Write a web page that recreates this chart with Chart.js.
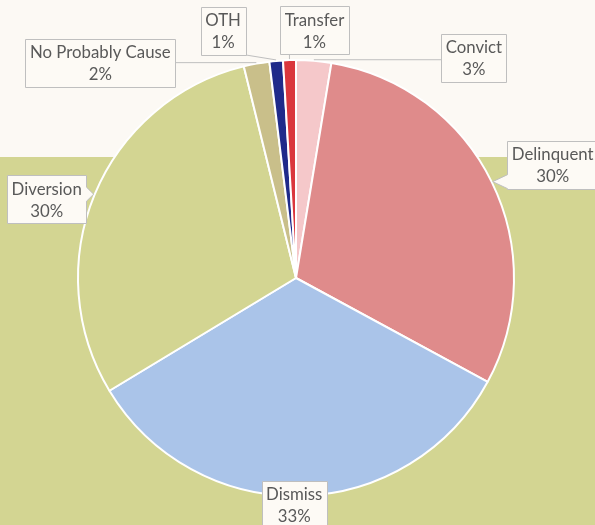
<!DOCTYPE html>
<html>
<head>
<meta charset="utf-8">
<script src="https://cdn.jsdelivr.net/npm/chart.js@4.4.1/dist/chart.umd.min.js"></script>
<style>
	html, body { margin: 0; padding: 0; background: #fcf9f4; }
	#wrap { width: 595px; height: 525px; }
</style>
</head>
<body>
<div id="wrap"><canvas id="pie" width="595" height="525"></canvas></div>
<script>
(function () {
	'use strict';

	// slices, clockwise from 12 o'clock
	var categories = ['Convict', 'Delinquent', 'Dismiss', 'Diversion', 'No Probably Cause', 'OTH', 'Transfer'];
	var shares = [2.6, 30.3, 33.45, 29.8, 1.9, 1.0, 0.95];
	var sliceColors = ['#f5c8ca', '#df8b8b', '#aac4e9', '#d3d592', '#c9bf8a', '#1f2a8a', '#da373d'];

	// where each callout box sits, relative to the middle of its slice's rim
	var labelOffsets = [[160, -2], [60, -17], [-7, 8], [-47, 5], [-156, 0], [-53, -29], [25, -29]];
	var labelPointers = ['line', 'callout', 'none', 'callout', 'line', 'line', 'line'];

	var bgTop = '#fcf9f4',
		bgBottom = '#d3d592',
		bandY = 157,
		boxFill = '#fdfaf5',
		boxLine = '#bfbfbf',
		textColor = '#595959',
		font = '16.8px Lato, "Liberation Sans", sans-serif';

	var backdrop = {
		id: 'backdrop',
		beforeDraw: function (chart) {
			var ctx = chart.ctx;
			ctx.save();
			ctx.fillStyle = bgTop;
			ctx.fillRect(0, 0, chart.width, chart.height);
			ctx.fillStyle = bgBottom;
			ctx.fillRect(0, bandY, chart.width, chart.height - bandY);
			ctx.restore();
		}
	};

	function boxPath(ctx, l, t, w, h, pointer, tip) {
		var r = l + w, b = t + h, notch = 7;
		ctx.beginPath();
		ctx.moveTo(l, t);
		ctx.lineTo(r, t);
		if (pointer === 'callout' && tip.x > r) {
			var ny = Math.min(Math.max(tip.y, t + notch), b - notch);
			ctx.lineTo(r, ny - notch);
			ctx.lineTo(tip.x, tip.y);
			ctx.lineTo(r, ny + notch);
		}
		ctx.lineTo(r, b);
		ctx.lineTo(l, b);
		if (pointer === 'callout' && tip.x < l) {
			var my = Math.min(Math.max(tip.y, t + notch), b - notch);
			ctx.lineTo(l, my + notch);
			ctx.lineTo(tip.x, tip.y);
			ctx.lineTo(l, my - notch);
		}
		ctx.closePath();
	}

	var callouts = {
		id: 'callouts',
		afterDatasetsDraw: function (chart) {
			var ctx = chart.ctx,
				meta = chart.getDatasetMeta(0),
				total = shares.reduce(function (a, v) { return a + v; }, 0);

			ctx.save();
			ctx.font = font;
			meta.data.forEach(function (arc, i) {
				var p = arc.getProps(['x', 'y', 'startAngle', 'endAngle', 'outerRadius'], true),
					mid = (p.startAngle + p.endAngle) / 2,
					rim = p.outerRadius + 1,
					tip = { x: p.x + Math.cos(mid) * rim, y: p.y + Math.sin(mid) * rim },
					name = categories[i],
					pct = Math.round(shares[i] / total * 100) + '%',
					w = Math.max(ctx.measureText(name).width, ctx.measureText(pct).width) + 9,
					h = 48,
					cx = tip.x + labelOffsets[i][0],
					cy = tip.y + labelOffsets[i][1],
					l = cx - w / 2,
					t = cy - h / 2;

				if (labelPointers[i] === 'line') {
					var ex = Math.min(Math.max(tip.x, l), l + w),
						ey = Math.min(Math.max(tip.y, t), t + h);
					ctx.strokeStyle = boxLine;
					ctx.lineWidth = 1;
					ctx.beginPath();
					ctx.moveTo(ex, ey);
					ctx.lineTo(tip.x, tip.y);
					ctx.stroke();
				}

				boxPath(ctx, Math.round(l) + 0.5, Math.round(t) + 0.5, Math.round(w), h, labelPointers[i], tip);
				ctx.fillStyle = boxFill;
				ctx.fill();
				ctx.strokeStyle = boxLine;
				ctx.lineWidth = 1;
				ctx.stroke();

				ctx.fillStyle = textColor;
				ctx.textAlign = 'center';
				ctx.textBaseline = 'middle';
				ctx.fillText(name, cx, t + 14);
				ctx.fillText(pct, cx, t + 36);
			});
			ctx.restore();
		}
	};

	new Chart(document.getElementById('pie'), {
		type: 'pie',
		data: {
			labels: categories,
			datasets: [{
				data: shares,
				backgroundColor: sliceColors,
				borderColor: '#ffffff',
				borderWidth: 2
			}]
		},
		options: {
			responsive: false,
			animation: false,
			layout: {
				padding: { left: 77, right: 80, top: 59, bottom: 28 }
			},
			plugins: {
				legend: { display: false },
				tooltip: { enabled: false }
			}
		},
		plugins: [backdrop, callouts]
	});
})();
</script>
</body>
</html>
